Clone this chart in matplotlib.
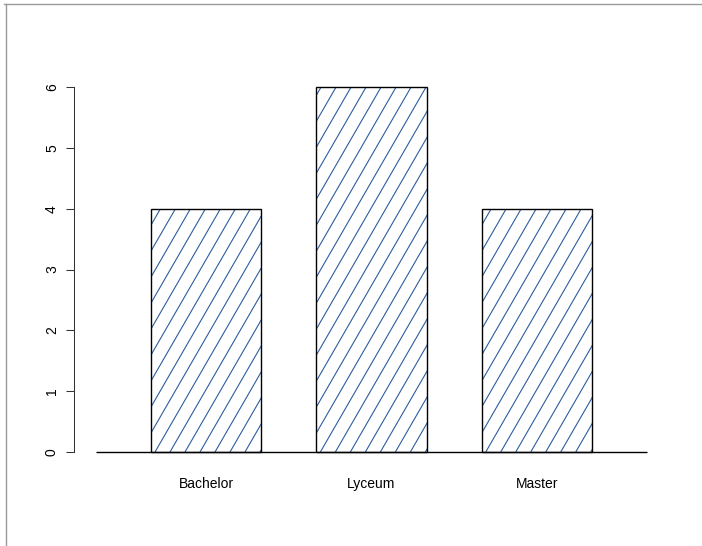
import numpy as np
import matplotlib
matplotlib.use("Agg")
import matplotlib.pyplot as plt
from matplotlib.lines import Line2D

plt.rcParams['font.family'] = ['Liberation Sans', 'DejaVu Sans']

# Data
categories = ["Bachelor", "Lyceum", "Master"]
counts = [4, 6, 4]
y_ticks = [0, 1, 2, 3, 4, 5, 6]

W, H, DPI = 702, 546, 100
fig = plt.figure(figsize=(W / DPI, H / DPI), dpi=DPI)

# axes placed in pixel units
ax_left, ax_right, ax_bottom, ax_top = 74, 660, 460, 80
ax = fig.add_axes([ax_left / W, (H - ax_bottom) / H,
                   (ax_right - ax_left) / W, (ax_bottom - ax_top) / H])

bar_w, space = 1.0, 0.5
lefts = np.array([space + i * (bar_w + space) for i in range(len(counts))])
centers = lefts + bar_w / 2

px_per_x = 110.25
px_per_y = 60.83
x0 = 0.5 + (ax_left - 151) / px_per_x
x1 = 0.5 + (ax_right - 151) / px_per_x
y0 = (452 - ax_bottom) / px_per_y
y1 = (452 - ax_top) / px_per_y
ax.set_xlim(x0, x1)
ax.set_ylim(y0, y1)

bars = ax.bar(centers, counts, width=bar_w, facecolor="none",
              edgecolor="black", linewidth=1.0, zorder=3)

# diagonal shading lines inside each bar
hatch_color = "#2c5d9f"
angle = np.deg2rad(60)
spacing_px = 15.0
phase_px = 4.0
slope = np.tan(angle) * px_per_x / px_per_y   # data units
dx = spacing_px / px_per_x
ph = phase_px / px_per_x
for rect, h in zip(bars, counts):
    left = rect.get_x()
    run = h / slope
    k_start = int(np.floor(-run / dx)) - 1
    k_end = int(np.ceil(bar_w / dx)) + 1
    for k in range(k_start, k_end + 1):
        xs = left + ph + k * dx
        ln, = ax.plot([xs, xs + run], [0, h], color=hatch_color,
                      linewidth=0.8, zorder=2, solid_capstyle="butt")
        ln.set_clip_path(rect)

# baseline
ax.plot([0, 5], [0, 0], color="black", linewidth=1.0, zorder=4,
        clip_on=False, solid_capstyle="butt")

for s in ["top", "right", "bottom"]:
    ax.spines[s].set_visible(False)
ax.spines["left"].set_bounds(0, 6)
ax.spines["left"].set_color("#333333")
ax.spines["left"].set_linewidth(0.75)

ax.set_yticks(y_ticks)
ax.set_yticklabels([str(v) for v in y_ticks], rotation=90, va="center")
ax.tick_params(axis="y", length=5.8, width=0.75, color="#333333",
               labelsize=10, pad=5)

ax.set_xticks(centers)
ax.set_xticklabels(categories)
ax.tick_params(axis="x", length=0, labelsize=10, pad=12)

# outer frame lines
frame_col = "#999999"
fig.add_artist(Line2D([4 / W, 1], [1 - 4 / H, 1 - 4 / H], transform=fig.transFigure,
                      color=frame_col, linewidth=1.0))
fig.add_artist(Line2D([6 / W, 6 / W], [0, 1 - 4 / H], transform=fig.transFigure,
                      color=frame_col, linewidth=1.0))

fig.savefig("out.png", dpi=DPI)
